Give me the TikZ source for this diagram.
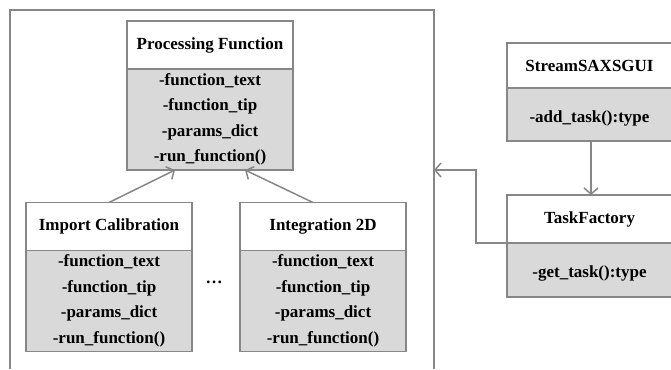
\documentclass[tikz,border=0pt]{standalone}
\usepackage{fontspec}
\setmainfont{Liberation Serif}
\usetikzlibrary{positioning,arrows.meta}

\definecolor{linegray}{RGB}{135,135,135}
\definecolor{boxgray}{RGB}{217,217,217}

\tikzset{
  head/.style={draw=linegray, line width=1.5pt, fill=white, minimum width=166pt,
    minimum height=48pt, inner sep=0pt, outer sep=0pt,
    font=\fontsize{17}{25.5}\selectfont\bfseries},
  body/.style={head, fill=boxgray, align=center, execute at begin node=\rule{0pt}{19pt}},
  link/.style={draw=linegray, line width=1.5pt, -{Straight Barb[length=6pt,width=14pt]}},
}

\begin{document}
\begin{tikzpicture}[x=1pt, y=-1pt]
        \useasboundingbox (0,0) rectangle (671,369);

        % module frame (open at the bottom)
        \draw[linegray, line width=1.5pt] (10,369) -- (10,10) -- (434,10) -- (434,369);
        \coordinate (fr) at (434,170);

        % base class
        \node[head] (pf) at (210,45) {Processing Function};
        \node[body, minimum height=101pt, below=0pt of pf] (pfa)
                {-function\_text\\-function\_tip\\-params\_dict\\-run\_function()};

        % derived classes
        \node[head] (ic) at (109,226.5) {Import Calibration};
        \node[body, minimum height=101pt, below=0pt of ic] (ica)
                {-function\_text\\-function\_tip\\-params\_dict\\-run\_function()};
        \node[head] (id) at (323,226.5) {Integration 2D};
        \node[body, minimum height=101pt, below=0pt of id] (ida)
                {-function\_text\\-function\_tip\\-params\_dict\\-run\_function()};
        \node[font=\fontsize{17}{20}\selectfont\bfseries] (dots) at (214,282) {\dots};

        % gui and factory
        \node[head, minimum width=165pt, minimum height=45pt] (sg) at (589.5,65.5) {StreamSAXSGUI};
        \node[body, minimum width=165pt, minimum height=53pt, below=0pt of sg] (sga) {-add\_task():type};
        \node[head, minimum width=165pt] (tf) at (589.5,219) {TaskFactory};
        \node[body, minimum width=165pt, minimum height=54pt, below=0pt of tf] (tfa) {-get\_task():type};

        % connectors
        \path[link] (ic.north) -- ([xshift=-35pt]pfa.south);
        \path[link] ([xshift=-10pt]id.north) -- ([xshift=35pt]pfa.south);
        \path[link] ([xshift=1.5pt]sga.south) -- ([xshift=1.5pt]tf.north);
        \path[link] (tfa.north west) -- ++(-31,0) |- (fr);
\end{tikzpicture}
\end{document}
